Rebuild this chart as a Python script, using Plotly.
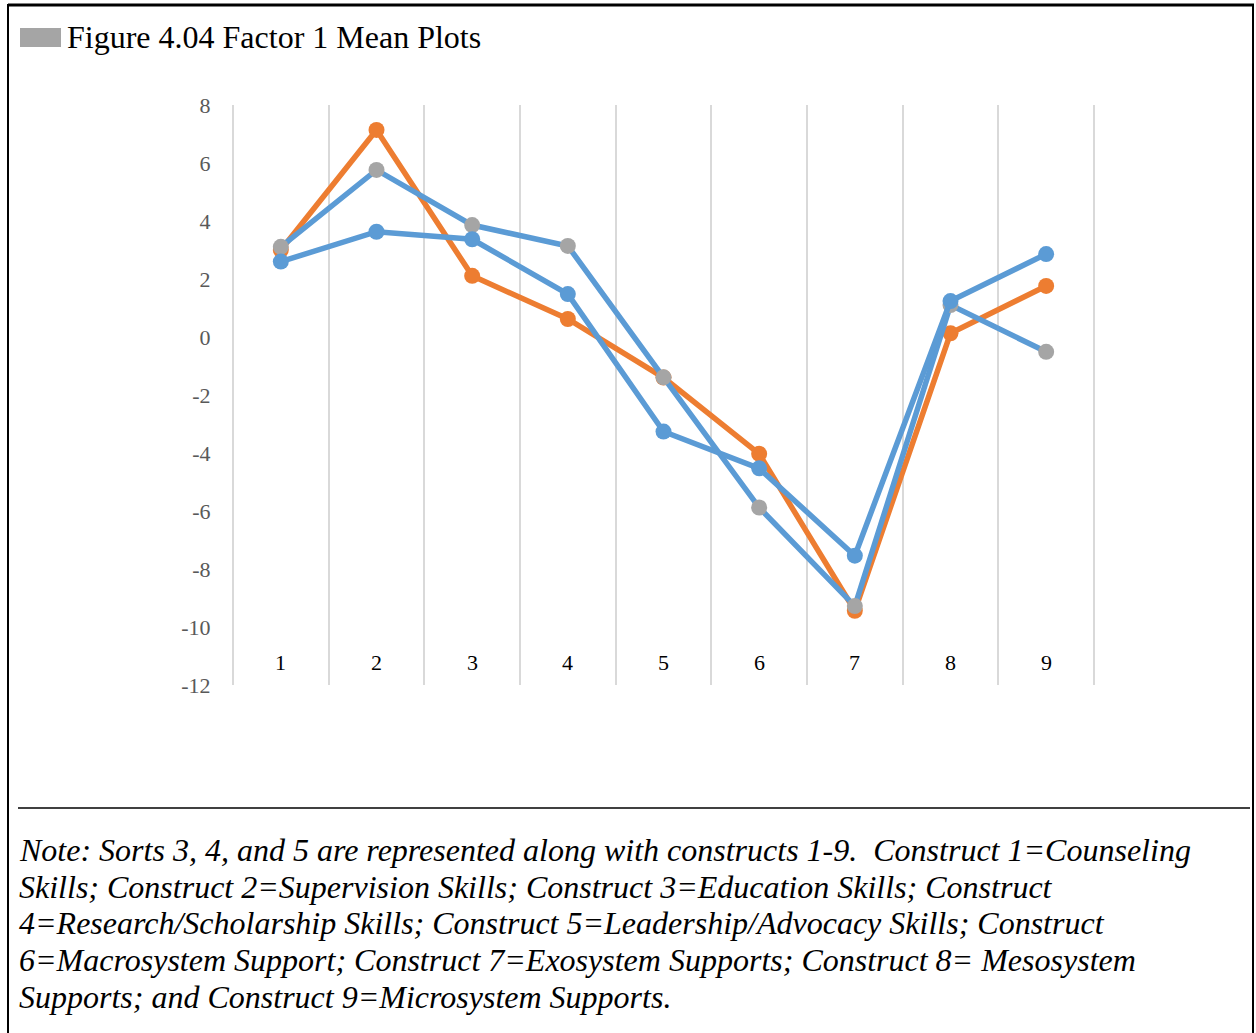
import plotly.graph_objects as go

W, H = 1256, 1033

constructs = [1, 2, 3, 4, 5, 6, 7, 8, 9]
tick_labels = ["1", "2", "3", "4", "5", "6", "7", "8", "9"]
sort_orange = [3.0, 7.14, 2.11, 0.62, -1.40, -4.03, -9.44, 0.13, 1.76]
sort_gray = [3.11, 5.76, 3.86, 3.14, -1.39, -5.88, -9.28, 1.10, -0.51]
sort_blue = [2.60, 3.63, 3.37, 1.48, -3.26, -4.53, -7.54, 1.24, 2.86]
y_ticks = [8, 6, 4, 2, 0, -2, -4, -6, -8, -10, -12]

note_lines = [
    "Note: Sorts 3, 4, and 5 are represented along with constructs 1-9.\u00a0 Construct 1=Counseling",
    "Skills; Construct 2=Supervision Skills; Construct 3=Education Skills; Construct",
    "4=Research/Scholarship Skills; Construct 5=Leadership/Advocacy Skills; Construct",
    "6=Macrosystem Support; Construct 7=Exosystem Supports; Construct 8= Mesosystem",
    "Supports; and Construct 9=Microsystem Supports.",
]

ORANGE = "#ED7D31"
BLUE = "#5B9BD5"
GRAY = "#A5A5A5"
SERIF = "Liberation Serif, Times New Roman, serif"


def px(x):
    return x / W


def py(y):
    return 1 - y / H


fig = go.Figure()
fig.add_trace(go.Scatter(x=constructs, y=sort_orange, mode="lines+markers",
                         line=dict(color=ORANGE, width=5.5),
                         marker=dict(color=ORANGE, size=16), name="Sort 3"))
fig.add_trace(go.Scatter(x=constructs, y=sort_gray, mode="lines+markers",
                         line=dict(color=BLUE, width=5.5),
                         marker=dict(color=GRAY, size=16), name="Sort 5"))
fig.add_trace(go.Scatter(x=constructs, y=sort_blue, mode="lines+markers",
                         line=dict(color=BLUE, width=5.5),
                         marker=dict(color=BLUE, size=16), name="Sort 4"))

annotations = []
for c, t in zip(constructs, tick_labels):
    annotations.append(dict(x=c, y=-11.24, xref="x", yref="y", text=t,
                            showarrow=False, xanchor="center", yanchor="middle",
                            font=dict(family=SERIF, size=22, color="black")))

annotations.append(dict(x=px(65), y=py(37), xref="paper", yref="paper",
                        text="Figure 4.04 Factor 1 Mean Plots", showarrow=False,
                        xanchor="left", yanchor="middle",
                        font=dict(family=SERIF, size=32, color="black")))

note_y = [850, 887, 923, 960, 997]
for line, yy in zip(note_lines, note_y):
    annotations.append(dict(x=px(17), y=py(yy), xref="paper", yref="paper",
                            text="<i>" + line + "</i>", showarrow=False,
                            xanchor="left", yanchor="middle",
                            font=dict(family=SERIF, size=32, color="black")))

shapes = [
    dict(type="rect", xref="paper", yref="paper", x0=px(20), x1=px(61),
         y0=py(47), y1=py(28), fillcolor=GRAY, line=dict(width=0)),
    dict(type="line", xref="paper", yref="paper", x0=px(8), x1=px(1254),
         y0=py(5), y1=py(5), line=dict(color="black", width=3)),
    dict(type="line", xref="paper", yref="paper", x0=px(8), x1=px(8),
         y0=py(4), y1=py(1040), line=dict(color="black", width=2)),
    dict(type="line", xref="paper", yref="paper", x0=px(1253), x1=px(1253),
         y0=py(4), y1=py(1040), line=dict(color="black", width=2)),
    dict(type="line", xref="paper", yref="paper", x0=px(18), x1=px(1250),
         y0=py(808), y1=py(808), line=dict(color="black", width=1.3)),
]

fig.update_layout(
    width=W, height=H,
    margin=dict(l=0, r=0, t=0, b=0),
    paper_bgcolor="white", plot_bgcolor="white",
    showlegend=False, hovermode=False,
    annotations=annotations, shapes=shapes,
    xaxis=dict(domain=[px(231), px(1096)], range=[0.479, 9.521],
               tickvals=[0.5, 1.5, 2.5, 3.5, 4.5, 5.5, 6.5, 7.5, 8.5, 9.5],
               showticklabels=False, ticks="", showgrid=True,
               gridcolor="#D9D9D9", gridwidth=2, zeroline=False,
               showline=False, fixedrange=True),
    yaxis=dict(domain=[py(685), py(105)], range=[-12, 8],
               tickvals=y_ticks, ticktext=[str(v) for v in y_ticks],
               showgrid=False, zeroline=False, showline=False,
               ticks="outside", ticklen=15, tickcolor="rgba(0,0,0,0)",
               tickfont=dict(family=SERIF, size=22, color="#595959"),
               automargin=False, fixedrange=True),
)

fig.write_html("out.html", config={"displayModeBar": False},
               post_script="document.body.style.margin='0';document.body.style.overflow='hidden';")
